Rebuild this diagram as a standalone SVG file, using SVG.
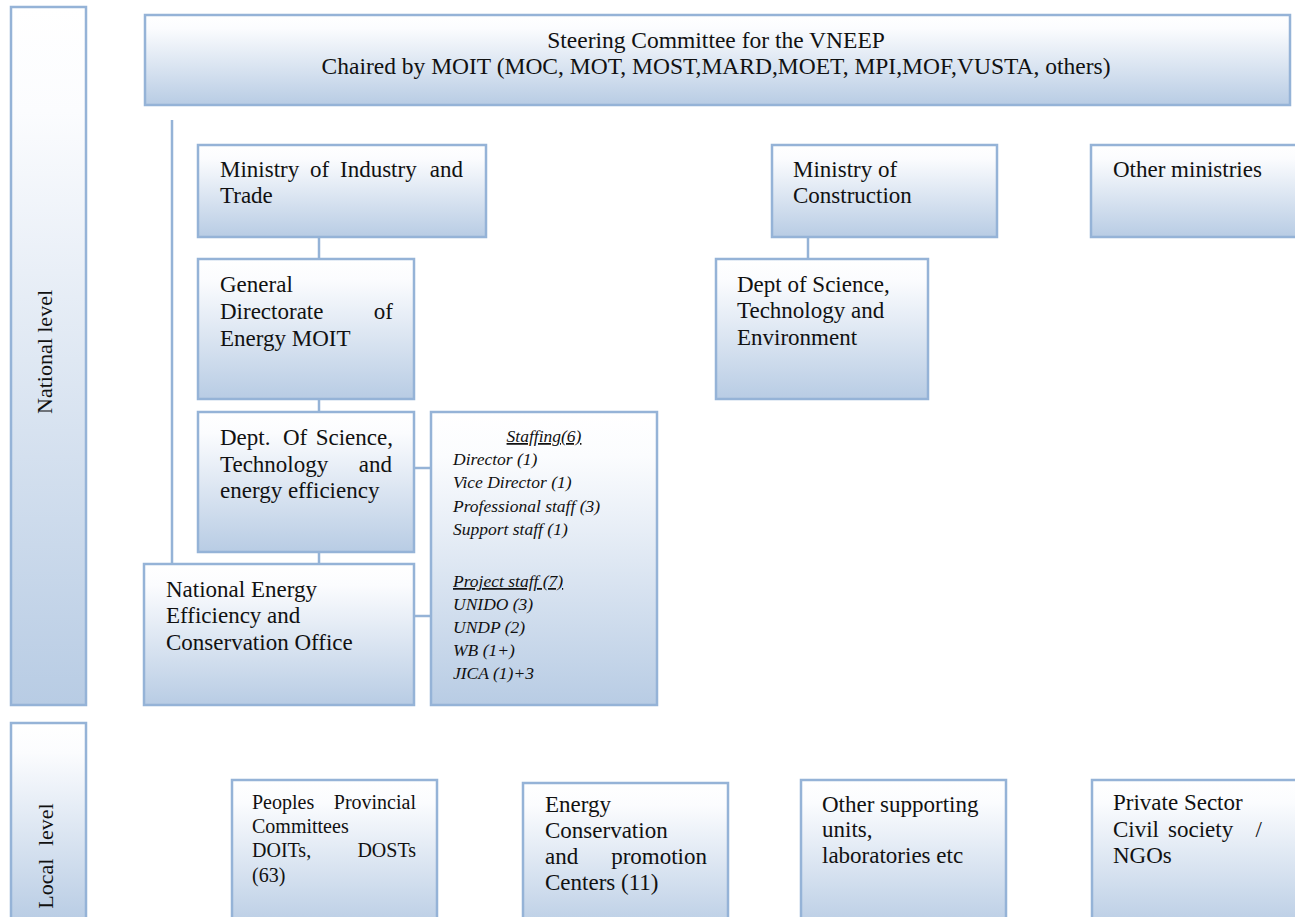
<svg xmlns="http://www.w3.org/2000/svg" width="1295" height="917" viewBox="0 0 1295 917">
<defs>
<linearGradient id="g" x1="0" y1="0" x2="0" y2="1">
<stop offset="0" stop-color="#ffffff"/>
<stop offset="0.15" stop-color="#fbfcfe"/>
<stop offset="1" stop-color="#b8cce4"/>
</linearGradient>
<style>
.box{fill:url(#g);stroke:#95b3d7;stroke-width:2.5}
.t{font-family:"Liberation Serif","Times New Roman",serif;font-size:23px;fill:#111}
.s{font-size:20px}
.i{font-family:"Liberation Serif","Times New Roman",serif;font-size:17.5px;font-style:italic;fill:#111}
.u{text-decoration:underline}
.e{text-anchor:end}
.m{text-anchor:middle}
.c{stroke:#95b3d7;stroke-width:2.5;fill:none}
</style>
</defs>
<rect width="1295" height="917" fill="#ffffff"/>

<g id="national-level">
<rect class="box" x="11" y="7" width="75" height="698"/>
<text class="t m" style="font-size:22px" transform="translate(52,352) rotate(-90)">National level</text>
</g>
<g id="local-level">
<rect class="box" x="11" y="723" width="75" height="200"/>
<text class="t m" style="font-size:22px" word-spacing="7" transform="translate(53,856) rotate(-90)">Local level</text>
</g>

<g id="connectors">
<line class="c" x1="172" y1="120" x2="172" y2="564"/>
<line class="c" x1="319" y1="237" x2="319" y2="259"/>
<line class="c" x1="319" y1="399" x2="319" y2="412"/>
<line class="c" x1="319" y1="552" x2="319" y2="564"/>
<line class="c" x1="414" y1="468" x2="431" y2="468"/>
<line class="c" x1="414" y1="616" x2="431" y2="616"/>
<line class="c" x1="808" y1="237" x2="808" y2="259"/>
</g>

<g id="steering">
<rect class="box" x="145" y="15" width="1145" height="90"/>
<text class="t m" style="font-size:23.5px" x="716" y="48">Steering Committee for the VNEEP</text>
<text class="t m" style="font-size:23.5px" x="716" y="74">Chaired by MOIT (MOC, MOT, MOST,MARD,MOET, MPI,MOF,VUSTA, others)</text>
</g>

<g id="moit">
<rect class="box" x="198" y="145" width="288" height="92"/>
<text class="t" x="220" y="177">Ministry</text>
<text class="t" x="310" y="177">of</text>
<text class="t" x="340" y="177">Industry</text>
<text class="t e" x="463" y="177">and</text>
<text class="t" x="220" y="203">Trade</text>
</g>

<g id="general-directorate">
<rect class="box" x="198" y="259" width="216" height="140"/>
<text class="t" x="220" y="292">General</text>
<text class="t" x="220" y="319">Directorate</text>
<text class="t e" x="393" y="319">of</text>
<text class="t" x="220" y="346">Energy MOIT</text>
</g>

<g id="dept-science-ee">
<rect class="box" x="198" y="412" width="216" height="140"/>
<text class="t" x="220" y="445">Dept.</text>
<text class="t" x="283" y="445">Of</text>
<text class="t e" x="393" y="445">Science,</text>
<text class="t" x="220" y="472">Technology</text>
<text class="t e" x="392" y="472">and</text>
<text class="t" x="220" y="498">energy efficiency</text>
</g>

<g id="neeco">
<rect class="box" x="144" y="564" width="270" height="141"/>
<text class="t" x="166" y="597">National Energy</text>
<text class="t" x="166" y="623">Efficiency and</text>
<text class="t" x="166" y="650">Conservation Office</text>
</g>

<g id="staffing">
<rect class="box" x="431" y="412" width="226" height="293"/>
<text class="i m u" x="544" y="442">Staffing(6)</text>
<text class="i" x="453" y="465">Director (1)</text>
<text class="i" x="453" y="488">Vice Director (1)</text>
<text class="i" x="453" y="512">Professional staff (3)</text>
<text class="i" x="453" y="535">Support staff (1)</text>
<text class="i u" x="453" y="587">Project staff (7)</text>
<text class="i" x="453" y="610">UNIDO (3)</text>
<text class="i" x="453" y="633">UNDP (2)</text>
<text class="i" x="453" y="656">WB (1+)</text>
<text class="i" x="453" y="679">JICA (1)+3</text>
</g>

<g id="moc">
<rect class="box" x="772" y="145" width="225" height="92"/>
<text class="t" x="793" y="177">Ministry of</text>
<text class="t" x="793" y="203">Construction</text>
</g>

<g id="dept-science-env">
<rect class="box" x="716" y="259" width="212" height="140"/>
<text class="t" x="737" y="292">Dept of Science,</text>
<text class="t" x="737" y="318">Technology and</text>
<text class="t" x="737" y="345">Environment</text>
</g>

<g id="other-ministries">
<rect class="box" x="1091" y="145" width="215" height="92"/>
<text class="t" x="1113" y="177">Other ministries</text>
</g>

<g id="peoples-committees">
<rect class="box" x="232" y="780" width="205" height="150"/>
<text class="t s" x="252" y="809">Peoples</text>
<text class="t s e" x="416" y="809">Provincial</text>
<text class="t s" x="252" y="833">Committees</text>
<text class="t s" x="252" y="857">DOITs,</text>
<text class="t s e" x="416" y="857">DOSTs</text>
<text class="t s" x="252" y="882">(63)</text>
</g>

<g id="energy-centers">
<rect class="box" x="523" y="783" width="205" height="150"/>
<text class="t" x="545" y="812">Energy</text>
<text class="t" x="545" y="838">Conservation</text>
<text class="t" x="545" y="864">and</text>
<text class="t e" x="707" y="864">promotion</text>
<text class="t" x="545" y="890">Centers (11)</text>
</g>

<g id="other-supporting">
<rect class="box" x="801" y="780" width="205" height="150"/>
<text class="t" x="822" y="812">Other supporting</text>
<text class="t" x="822" y="837">units,</text>
<text class="t" x="822" y="863">laboratories etc</text>
</g>

<g id="private-sector">
<rect class="box" x="1092" y="780" width="215" height="150"/>
<text class="t" x="1113" y="810">Private Sector</text>
<text class="t" x="1113" y="837">Civil</text>
<text class="t" x="1168" y="837">society</text>
<text class="t e" x="1262" y="837">/</text>
<text class="t" x="1113" y="863">NGOs</text>
</g>
</svg>
